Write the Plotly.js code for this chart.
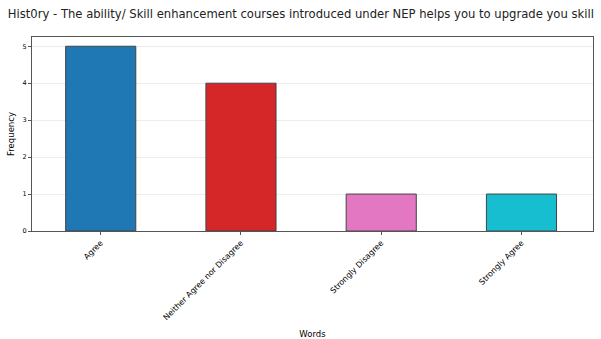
<!DOCTYPE html>
<html><head><meta charset="utf-8">
<script src="https://cdn.plot.ly/plotly-3.0.1.min.js"></script>
<style>body{margin:0;background:#fff;overflow:hidden}#c{width:601px;height:339px}</style>
</head><body><div id="c"></div>
<script>
const categories = ["Agree", "Neither Agree nor Disagree", "Strongly Disagree", "Strongly Agree"];
const frequency = [5, 4, 1, 1];
const barColors = ["#1f77b4", "#d62728", "#e377c2", "#17becf"];
const titleText = "Hist0ry - The ability/ Skill enhancement courses introduced under NEP helps you to upgrade you skill";

const trace = {
  type: "bar", x: categories, y: frequency, width: 0.5,
  marker: {color: barColors, line: {color: "#444", width: 1}},
  hoverinfo: "x+y"
};
const layout = {
  width: 601, height: 339,
  margin: {l: 32, r: 8, t: 37, b: 108},
  paper_bgcolor: "#fff", plot_bgcolor: "#fff",
  font: {family: "DejaVu Sans, sans-serif", color: "#000"},
  title: {text: titleText, x: 0.013, xanchor: "left", y: 0.972, yanchor: "top", font: {size: 11.6, color: "#222"}},
  xaxis: {
    type: "category", range: [-0.49, 3.51], tickangle: -45,
    tickfont: {size: 8}, showline: true, linecolor: "#555", mirror: true,
    ticks: "outside", ticklen: 3, tickcolor: "#555", showgrid: false,
    title: {text: "Words", font: {size: 8.5}, standoff: 10}
  },
  yaxis: {
    range: [0, 5.25], dtick: 1, tickfont: {size: 6.5},
    showline: true, linecolor: "#555", mirror: true,
    ticks: "outside", ticklen: 3, tickcolor: "#555",
    showgrid: true, gridcolor: "#ececec", gridwidth: 1, zeroline: false,
    title: {text: "Frequency", font: {size: 8.5}, standoff: 6}
  },
  showlegend: false
};
Plotly.newPlot("c", [trace], layout, {displayModeBar: false, staticPlot: true});
</script></body></html>
